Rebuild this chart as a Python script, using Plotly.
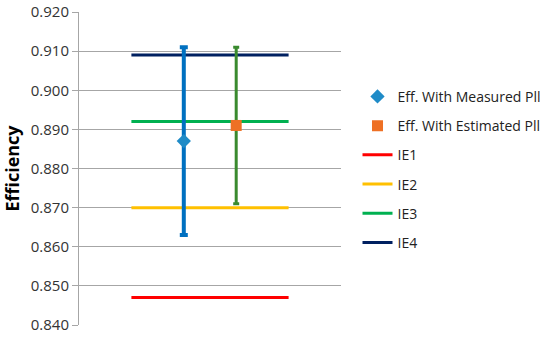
import plotly.graph_objects as go

# Data
point_names = ["Eff. With Measured Pll", "Eff. With Estimated Pll"]
point_x = [2, 3]
point_values = [0.887, 0.891]
err_plus = [0.024, 0.020]   # to 0.911
err_minus = [0.024, 0.020]  # to 0.863 / 0.871

ie_names = ["IE1", "IE2", "IE3", "IE4"]
ie_values = [0.847, 0.870, 0.892, 0.909]
ie_x = [1, 4]
ie_colors = ["#FF0000", "#FFC000", "#00B050", "#002060"]

y_ticks = [0.840, 0.850, 0.860, 0.870, 0.880, 0.890, 0.900, 0.910, 0.920]

fig = go.Figure()

for i, (name, v) in enumerate(zip(ie_names, ie_values)):
    fig.add_trace(go.Scatter(
        x=ie_x, y=[v, v], mode="lines", name=name,
        line=dict(color=ie_colors[i], width=3),
        legendrank=10 + i, legendgroup=name,
    ))

point_styles = [
    dict(symbol="diamond", color="#1F8BC7", size=11, ecolor="#0070C0", ethick=4, ewidth=4),
    dict(symbol="square", color="#EE7024", size=11, ecolor="#3A8A2E", ethick=3, ewidth=3),
]
for i, name in enumerate(point_names):
    s = point_styles[i]
    fig.add_trace(go.Scatter(
        x=[point_x[i]], y=[point_values[i]], mode="markers", name=name,
        marker=dict(symbol=s["symbol"], color=s["color"], size=s["size"]),
        error_y=dict(type="data", symmetric=False, array=[err_plus[i]],
                     arrayminus=[err_minus[i]], color=s["ecolor"],
                     thickness=s["ethick"], width=s["ewidth"]),
        legendrank=1 + i, legendgroup=name,
    ))

fig.update_layout(
    width=550, height=337,
    margin=dict(l=79, r=209, t=12, b=12, autoexpand=False),
    paper_bgcolor="white", plot_bgcolor="white",
    font=dict(family="Open Sans, Liberation Sans, sans-serif", size=14, color="#333333"),
    showlegend=True,
    legend=dict(x=1.063, y=0.78, xanchor="left", yanchor="top",
                font=dict(size=14, color="#222222"),
                tracegroupgap=8, itemwidth=30),
    xaxis=dict(range=[0, 5], showticklabels=False, showgrid=False,
               zeroline=False, showline=False, ticks="", automargin=False),
    yaxis=dict(range=[0.840, 0.920], tickvals=y_ticks, automargin=False,
               tickformat=".3f", showgrid=True, gridcolor="#A6A6A6", gridwidth=1,
               tickfont=dict(size=15, color="#333333"),
               showline=True, linecolor="#A6A6A6", linewidth=1,
               ticks="outside", ticklen=6, tickcolor="#A6A6A6",
               zeroline=False,
               title=dict(text="<b>Efficiency</b>", font=dict(size=18, color="#000000"),
                          standoff=7)),
)

fig.write_html("out.html",
               config={"displayModeBar": False},
               post_script="document.body.style.margin='0';document.body.style.overflow='hidden';")
